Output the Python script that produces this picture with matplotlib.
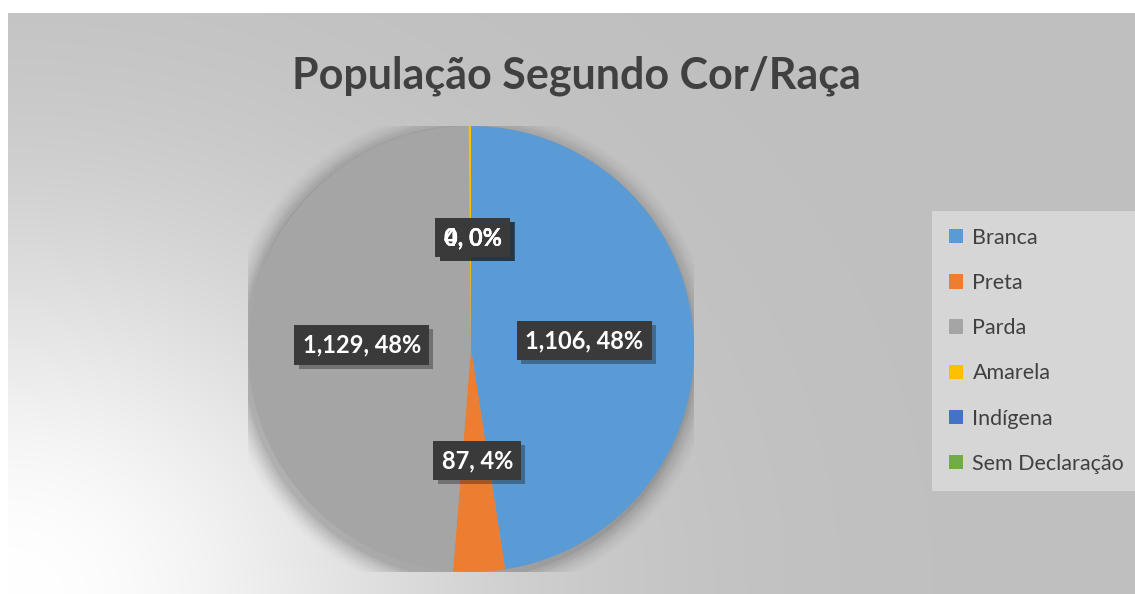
import numpy as np
import matplotlib.pyplot as plt
import matplotlib.patheffects as pe
from matplotlib.patches import Patch, Circle

# data
categories = ['Branca', 'Preta', 'Parda', 'Amarela', 'Indígena', 'Sem Declaração']
values = [1106, 87, 1129, 4, 0, 0]
pct_labels = [48, 4, 48, 0, 0, 0]
colors = ['#5B9BD5', '#ED7D31', '#A5A5A5', '#FFC000', '#4472C4', '#70AD47']

W, H = 1135, 594
fig = plt.figure(figsize=(W / 100, H / 100), dpi=100)
fig.patch.set_facecolor('white')

# gray background with a light glow from the bottom-left corner
bg = fig.add_axes([8 / W, 0, (W - 8) / W, (H - 13) / H])
yy, xx = np.mgrid[0:H - 13, 0:W - 8]
d2 = (xx / 500.0) ** 2 + (yy / 420.0) ** 2
base = 0.75
v = base + (1 - base) * np.exp(-1.3 * d2)
img = np.dstack([v, v, v])
bg.imshow(img, origin='lower', aspect='auto', interpolation='bilinear')
bg.set_axis_off()

fig.text(576 / W, 1 - 76 / H, 'População Segundo Cor/Raça', ha='center', va='center',
         fontsize=31, fontweight='bold', family='Lato', color='#404040')

# pie
cx, cy, r = 471, H - 349, 223
ax = fig.add_axes([(cx - r) / W, (cy - r) / H, 2 * r / W, 2 * r / H])
ax.set_facecolor('none')

# soft shadow behind the pie
for i, a in enumerate(np.linspace(0.05, 0.01, 8)):
    ax.add_patch(Circle((-0.01, -0.02), 1.0 + 0.012 * (i + 1), color='black', alpha=a, lw=0, zorder=0))

wedges, _ = ax.pie(values, colors=colors, startangle=90, counterclock=False,
                   wedgeprops=dict(linewidth=0))
for w in wedges:
    w.set_zorder(2)

ax.set_xlim(-1, 1)
ax.set_ylim(-1, 1)
ax.set_aspect('equal')
ax.axis('off')

for w, val, p in zip(wedges, values, pct_labels):
    ang = np.deg2rad((w.theta1 + w.theta2) / 2)
    x, y = 0.5 * np.cos(ang) + 0.01, 0.5 * np.sin(ang)
    s = f'{val:,}, {p}%'
    # box first, text drawn above every box so overlapping labels show through
    t = ax.text(x, y, s, ha='center', va='center', fontsize=17,
                fontweight='bold', family='Lato', color='none', zorder=5,
                bbox=dict(boxstyle='square,pad=0.35', fc='#3a3a3a', ec='none'))
    t.get_bbox_patch().set_path_effects([pe.SimplePatchShadow(offset=(3, -3), alpha=0.35),
                                         pe.Normal()])
    ax.text(x, y, s, ha='center', va='center', fontsize=17,
            fontweight='bold', family='Lato', color='white', zorder=6)

handles = [Patch(facecolor=c, edgecolor='none') for c in colors]
leg = fig.legend(handles, categories, loc='upper left',
                 bbox_to_anchor=(938 / W, 1 - 217 / H), frameon=True,
                 prop=dict(family='Lato', size=15.5), labelcolor='#404040',
                 handlelength=0.65, handleheight=0.65, handletextpad=0.45,
                 labelspacing=1.17, borderpad=0.5, borderaxespad=0)
leg.get_frame().set_facecolor('#d6d6d6')
leg.get_frame().set_edgecolor('none')
leg.get_frame().set_alpha(1)
leg.get_frame().set_boxstyle('square')

fig.savefig('out.png', dpi=100, facecolor='white')
